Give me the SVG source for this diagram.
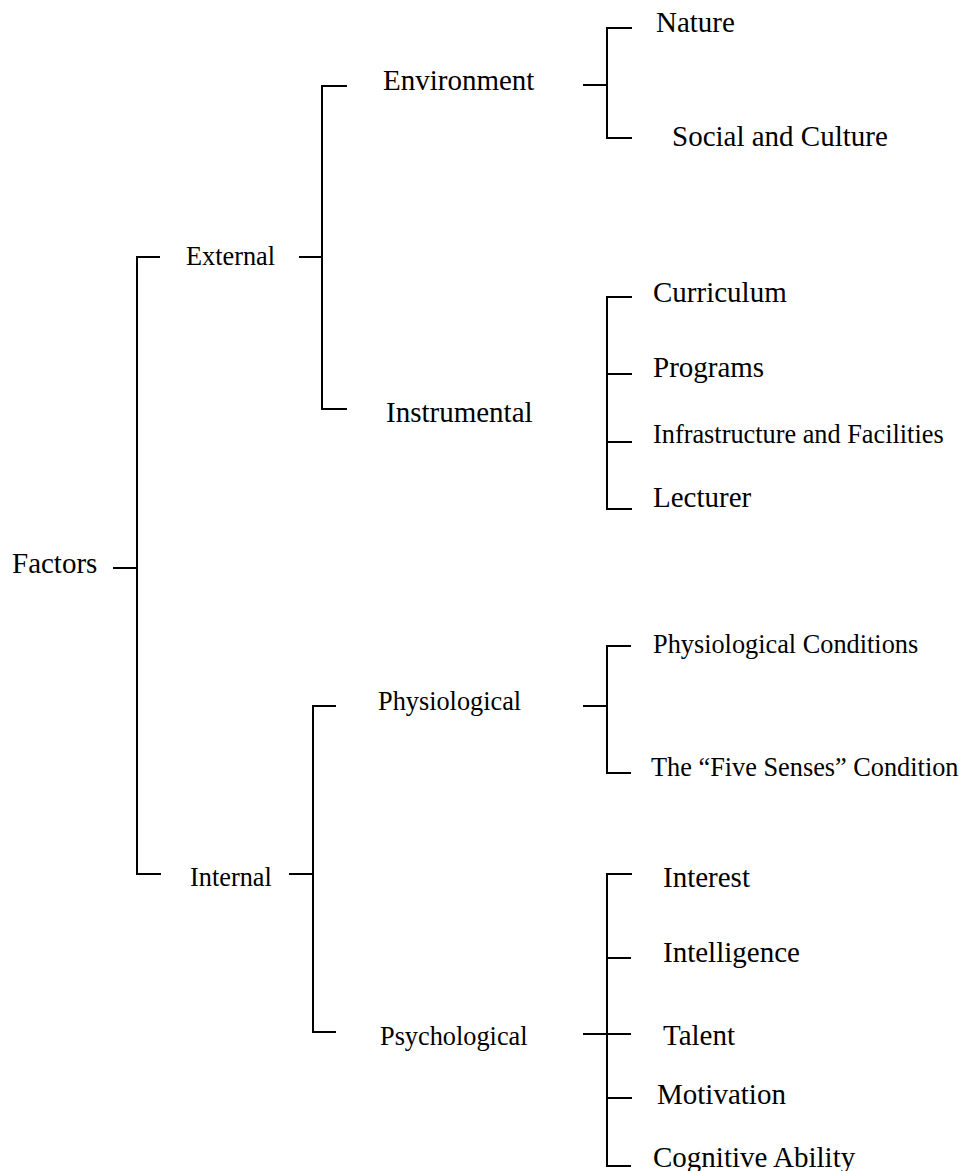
<svg xmlns="http://www.w3.org/2000/svg" width="963" height="1171" viewBox="0 0 963 1171">
<style>
text { font-family: "Liberation Serif", "Times New Roman", serif; fill: #000; }
.lg { font-size: 29px; }
.sm { font-size: 26.3px; }
.c { fill: none; stroke: #000; stroke-width: 2; }
</style>
<rect width="963" height="1171" fill="#fff"/>
<g id="connectors" class="c">
  <!-- Factors -->
  <path d="M113 568 H137 M160 257 H137 V874 H161"/>
  <!-- External -->
  <path d="M299 257 H322 M347 86 H322 V409 H347"/>
  <!-- Environment -->
  <path d="M583 85 H607 M632 28 H607 V138 H632"/>
  <!-- Instrumental -->
  <path d="M632 297 H607 V509 H632 M607 374 H632 M607 442 H632"/>
  <!-- Internal -->
  <path d="M289 874 H313 M336 706 H313 V1032 H336"/>
  <!-- Physiological -->
  <path d="M583 706 H607 M631 646 H607 V773 H631"/>
  <!-- Psychological -->
  <path d="M632 874 H607 V1166 H631 M607 958 H631 M583 1034 H631 M608 1098 H632"/>
</g>
<g id="n-factors"><text class="lg" x="12" y="573">Factors</text></g>
<g id="n-external"><text class="sm" x="186" y="265">External</text></g>
<g id="n-internal"><text class="sm" x="190" y="886">Internal</text></g>
<g id="n-environment"><text class="lg" x="383" y="90">Environment</text></g>
<g id="n-instrumental"><text class="lg" x="386" y="422">Instrumental</text></g>
<g id="n-physiological"><text class="sm" x="378" y="710">Physiological</text></g>
<g id="n-psychological"><text class="sm" x="380" y="1045">Psychological</text></g>
<g id="n-nature"><text class="lg" x="656" y="32">Nature</text></g>
<g id="n-social"><text class="lg" x="672" y="146">Social and Culture</text></g>
<g id="n-curriculum"><text class="lg" x="653" y="302">Curriculum</text></g>
<g id="n-programs"><text class="lg" x="653" y="377">Programs</text></g>
<g id="n-infrastructure"><text class="sm" x="653" y="443">Infrastructure and Facilities</text></g>
<g id="n-lecturer"><text class="lg" x="653" y="507">Lecturer</text></g>
<g id="n-physcond"><text class="sm" x="653" y="653">Physiological Conditions</text></g>
<g id="n-fivesenses"><text class="sm" x="651" y="776">The “Five Senses” Condition</text></g>
<g id="n-interest"><text class="lg" x="663" y="887">Interest</text></g>
<g id="n-intelligence"><text class="lg" x="663" y="962">Intelligence</text></g>
<g id="n-talent"><text class="lg" x="663" y="1045">Talent</text></g>
<g id="n-motivation"><text class="lg" x="657" y="1104">Motivation</text></g>
<g id="n-cognitive"><text class="lg" x="653" y="1167">Cognitive Ability</text></g>
</svg>
